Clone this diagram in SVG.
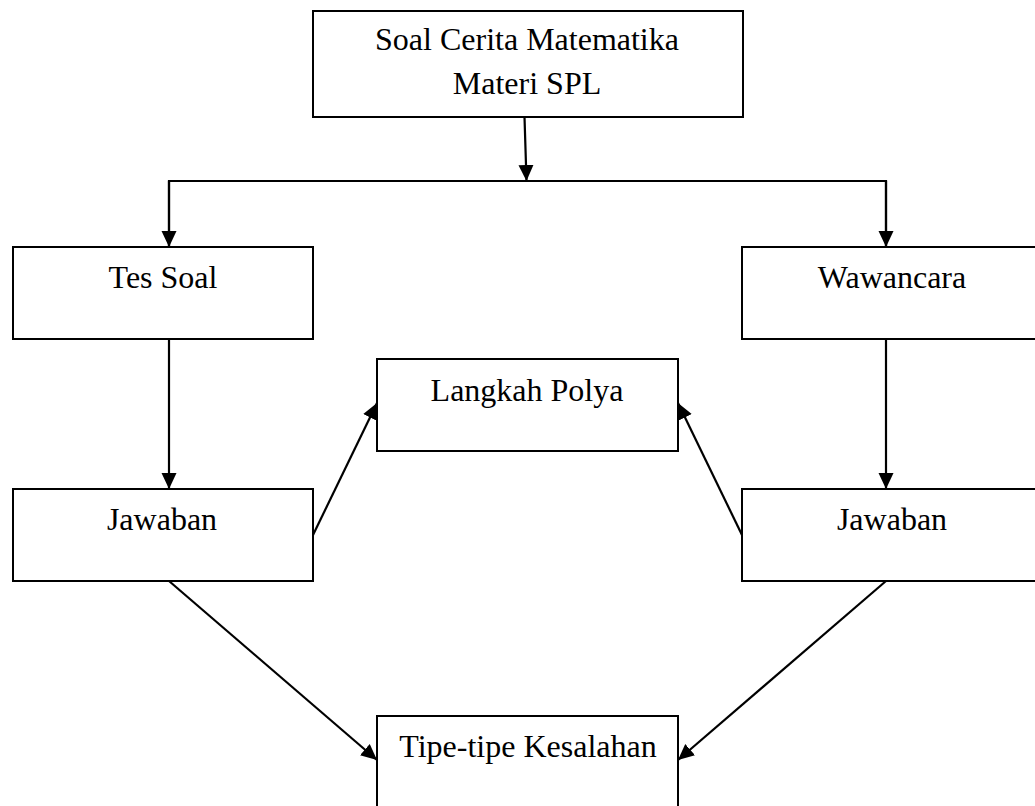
<svg xmlns="http://www.w3.org/2000/svg" width="1035" height="806" viewBox="0 0 1035 806">
<style>
.box{fill:#fff;stroke:#000;stroke-width:2}
.lbl{font-family:"Liberation Serif","Times New Roman",serif;font-size:32px;fill:#000;text-anchor:middle}
.con{fill:none;stroke:#000;stroke-width:2.2}
</style>
<defs>
<marker id="ah" markerUnits="userSpaceOnUse" markerWidth="18" markerHeight="18" viewBox="0 0 18 18" refX="16" refY="9" orient="auto">
<path d="M0,1.5 L16,9 L0,16.5 Z" fill="#000"/>
</marker>
</defs>
<rect width="1035" height="806" fill="#fff"/>
<g id="connectors">
<line class="con" x1="524.5" y1="117" x2="526.5" y2="181" marker-end="url(#ah)"/>
<polyline class="con" points="169,247 169,181 886,181 886,247"/>
<line class="con" x1="169" y1="181" x2="169" y2="247" marker-end="url(#ah)"/>
<line class="con" x1="886" y1="181" x2="886" y2="247" marker-end="url(#ah)"/>
<line class="con" x1="169" y1="339" x2="169" y2="489" marker-end="url(#ah)"/>
<line class="con" x1="886" y1="339" x2="886" y2="489" marker-end="url(#ah)"/>
<line class="con" x1="313" y1="535" x2="377" y2="403" marker-end="url(#ah)"/>
<line class="con" x1="742" y1="535" x2="678" y2="403" marker-end="url(#ah)"/>
<line class="con" x1="169" y1="581" x2="377" y2="760" marker-end="url(#ah)"/>
<line class="con" x1="886" y1="581" x2="678" y2="760" marker-end="url(#ah)"/>
</g>
<g id="soal">
<rect class="box" x="313" y="11" width="430" height="106"/>
<text class="lbl" x="527" y="50">Soal Cerita Matematika</text>
<text class="lbl" x="527" y="94">Materi SPL</text>
</g>
<g id="tes-soal">
<rect class="box" x="13" y="247" width="300" height="92"/>
<text class="lbl" x="163" y="288">Tes Soal</text>
</g>
<g id="wawancara">
<rect class="box" x="742" y="247" width="300" height="92"/>
<text class="lbl" x="892" y="288">Wawancara</text>
</g>
<g id="langkah-polya">
<rect class="box" x="377" y="359" width="301" height="92"/>
<text class="lbl" x="527" y="401">Langkah Polya</text>
</g>
<g id="jawaban-kiri">
<rect class="box" x="13" y="489" width="300" height="92"/>
<text class="lbl" x="162" y="530">Jawaban</text>
</g>
<g id="jawaban-kanan">
<rect class="box" x="742" y="489" width="300" height="92"/>
<text class="lbl" x="892" y="530">Jawaban</text>
</g>
<g id="tipe-kesalahan">
<rect class="box" x="377" y="716" width="301" height="100"/>
<text class="lbl" x="528" y="757">Tipe-tipe Kesalahan</text>
</g>
</svg>
